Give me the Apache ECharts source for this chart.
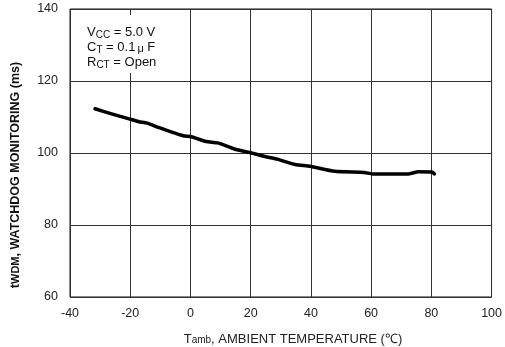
<!DOCTYPE html>
<html>
<head>
<meta charset="utf-8">
<script src="https://cdn.jsdelivr.net/npm/echarts@6/dist/echarts.min.js"></script>
<style>
  html, body { margin: 0; padding: 0; background: #fff; }
  #chart { width: 505px; height: 347px; }
</style>
</head>
<body>
<div id="chart"></div>
<script>
// Watchdog monitoring time versus ambient temperature
const temperature = [-31.7, -25.9, -20.1, -17.1, -14.4, -10.6, -6.2, -2.4, 0.3, 5.2, 9.1, 14.6, 20.3, 24.4, 28.8, 34.8, 39.7, 47.9, 57.7, 60.5, 72.5, 75.7, 80.1, 81.0];
const watchdogMs  = [112.3, 110.8, 109.4, 108.7, 108.3, 107.1, 105.8, 104.8, 104.5, 103.2, 102.8, 101.1, 100.0, 99.1, 98.3, 96.8, 96.3, 94.9, 94.6, 94.2, 94.2, 94.8, 94.7, 94.2];
const xTicks = [-40, -20, 0, 20, 40, 60, 80, 100];
const yTicks = [60, 80, 100, 120, 140];

const FONT = '"Liberation Sans", Arial, sans-serif';
const points = temperature.map((t, i) => [t, watchdogMs[i]]);

const chart = echarts.init(document.getElementById('chart'), null, { renderer: 'canvas' });
chart.setOption({
  animation: false,
  backgroundColor: '#fff',
  grid: {
    left: 70, right: 8, top: 9, bottom: 50,
    show: true, borderColor: '#111', borderWidth: 1, backgroundColor: 'transparent'
  },
  xAxis: {
    type: 'value',
    min: xTicks[0], max: xTicks[xTicks.length - 1], interval: 20,
    axisLine: { show: false },
    axisTick: { show: false },
    splitLine: { show: true, lineStyle: { color: '#333', width: 1 } },
    axisLabel: { color: '#222', fontFamily: FONT, fontSize: 12.5, margin: 10 }
  },
  yAxis: {
    type: 'value',
    min: yTicks[0], max: yTicks[yTicks.length - 1], interval: 20,
    axisLine: { show: false },
    axisTick: { show: false },
    splitLine: { show: true, lineStyle: { color: '#333', width: 1 } },
    axisLabel: { color: '#222', fontFamily: FONT, fontSize: 12.5, margin: 12 }
  },
  series: [{
    type: 'line',
    data: points,
    showSymbol: false,
    smooth: 0.2,
    lineStyle: { color: '#000', width: 3.5, cap: 'round', join: 'round' },
    z: 5
  }],
  graphic: [
    {
      type: 'rect', left: 84, top: 15, z: 10,
      shape: { width: 80, height: 58 },
      style: { fill: '#fff' }
    },
    {
      type: 'text', left: 87, top: 25, z: 11,
      style: {
        text: 'V{s|CC} = 5.0 V\nC{s|T} = 0.1{m|μ} F\nR{s|CT} = Open',
        fontFamily: FONT, fontSize: 13, fill: '#111', lineHeight: 15,
        rich: {
          s: { fontSize: 10, fontFamily: FONT, fill: '#111', padding: [5, 0, 0, 0] },
          m: { fontSize: 11, fontFamily: FONT, fill: '#111', padding: [2, 0, 0, 2] }
        }
      }
    },
    {
      type: 'text', x: 293, y: 339, z: 11,
      style: {
        text: 'T{s|amb}, AMBIENT TEMPERATURE (℃)',
        fontFamily: FONT, fontSize: 13, fill: '#222',
        align: 'center', verticalAlign: 'middle',
        rich: { s: { fontSize: 10, fontFamily: FONT, fill: '#222', padding: [3, 0, 0, 0] } }
      }
    },
    {
      type: 'text', x: 16, y: 175, rotation: Math.PI / 2, z: 11,
      style: {
        text: 't{s|WDM}, WATCHDOG MONITORING (ms)',
        fontFamily: FONT, fontSize: 12.5, fontWeight: 'bold', fill: '#111',
        align: 'center', verticalAlign: 'middle',
        rich: { s: { fontSize: 11, fontWeight: 'bold', fontFamily: FONT, fill: '#111' } }
      }
    }
  ]
});
</script>
</body>
</html>
